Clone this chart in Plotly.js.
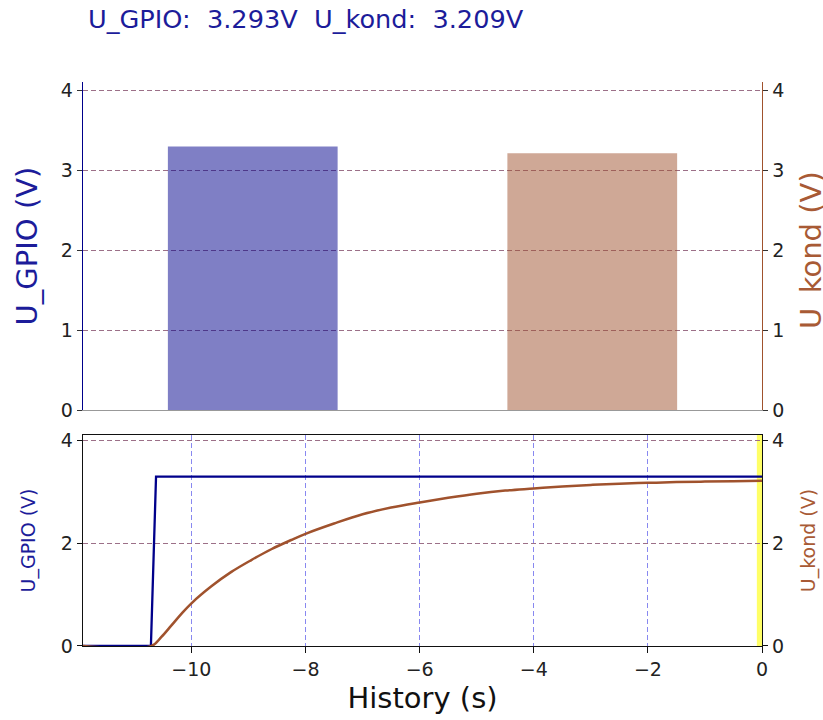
<!DOCTYPE html>
<html>
<head>
<meta charset="utf-8">
<script src="https://cdn.plot.ly/plotly-3.0.1.min.js"></script>
<style>html,body{margin:0;padding:0;background:#fff;}#chart{width:823px;height:720px;}</style>
</head>
<body>
<div id="chart"></div>
<script>
// Bar values (top panel)
const barCategories = [0, 1];
const uGpioNow = 3.293;
const uKondNow = 3.209;

// History (bottom panel)
const gpioTime = [-11.9, -10.71, -10.62, 0];
const gpioVolt = [0.0, 0.0, 3.293, 3.293];

const kondTime = [-11.9, -10.7, -10.53, -10.35, -10.18, -10.0, -9.65, -9.3, -8.95, -8.6, -8.25, -8.0, -7.5, -7.0, -6.5, -6.0, -5.5, -5.0, -4.5, -4.0, -3.5, -3.0, -2.5, -2.0, -1.5, -1.0, -0.5, 0.0];
const kondVolt = [0.0, 0.0, 0.17, 0.40, 0.62, 0.83, 1.16, 1.44, 1.67, 1.88, 2.06, 2.18, 2.38, 2.56, 2.69, 2.79, 2.88, 2.96, 3.02, 3.06, 3.10, 3.13, 3.155, 3.17, 3.185, 3.195, 3.203, 3.209];

const bigTicks = [0, 1, 2, 3, 4];
const smallTicks = [0, 2, 4];
const histTicks = [-10, -8, -6, -4, -2, 0];

const FONT = 'DejaVu Sans, sans-serif';
const NAVY = '#00008b';
const SIENNA = '#a0522d';
const GPIO_LABEL = '#1c1c9a';
const KOND_LABEL = '#a85a35';
const GRID_ROSE = '#9c7088';
const GRID_BLUE = '#8888f0';

const traces = [
  {type: 'bar', x: [barCategories[0]], y: [uGpioNow], width: 0.5, xaxis: 'x', yaxis: 'y',
   marker: {color: 'rgba(0,0,139,0.5)', line: {width: 0}}, hoverinfo: 'skip'},
  {type: 'bar', x: [barCategories[1]], y: [uKondNow], width: 0.5, xaxis: 'x', yaxis: 'y2',
   marker: {color: 'rgba(160,82,45,0.5)', line: {width: 0}}, hoverinfo: 'skip'},
  {type: 'scatter', mode: 'lines', x: gpioTime, y: gpioVolt, xaxis: 'x2', yaxis: 'y3',
   line: {color: NAVY, width: 2.3}},
  {type: 'scatter', mode: 'lines', x: kondTime, y: kondVolt, xaxis: 'x2', yaxis: 'y4',
   line: {color: SIENNA, width: 2.5, shape: 'spline', smoothing: 1}}
];

const tickFont = {family: FONT, size: 19, color: '#222'};

const layout = {
  width: 823, height: 720,
  margin: {l: 83, r: 61, t: 82, b: 74},
  paper_bgcolor: '#fff', plot_bgcolor: 'rgba(0,0,0,0)',
  showlegend: false,
  barmode: 'overlay',
  font: {family: FONT, color: '#222'},
  title: {text: 'U_GPIO:  3.293V  U_kond:  3.209V', x: 88/823, xanchor: 'left', xref: 'container',
          y: 1 - 19/720, yanchor: 'middle', yref: 'container',
          font: {family: FONT, size: 25.6, color: GPIO_LABEL}},
  xaxis: {domain: [0, 1], anchor: 'y', range: [-0.5, 1.5], showticklabels: false, ticks: '',
          showgrid: false, zeroline: false, showline: true, linecolor: '#999', linewidth: 1},
  yaxis: {domain: [0.4184, 1], anchor: 'x', range: [0, 4.1], tickvals: bigTicks, ticks: 'outside',
          ticklen: 5, tickcolor: '#333', tickfont: tickFont, showline: true, linecolor: NAVY, linewidth: 1.4,
          showgrid: true, gridcolor: GRID_ROSE, griddash: '5px,3px', gridwidth: 1, zeroline: false,
          title: {text: 'U_GPIO (V)', font: {family: FONT, size: 29, color: GPIO_LABEL}, standoff: 14}},
  yaxis2: {overlaying: 'y', side: 'right', anchor: 'x', range: [0, 4.1], tickvals: bigTicks, ticks: 'outside',
          ticklen: 5, tickcolor: '#333', tickfont: tickFont, showline: true, linecolor: SIENNA, linewidth: 1.4,
          showgrid: false, zeroline: false},
  xaxis2: {domain: [0, 1], anchor: 'y3', range: [-11.9, 0], tickvals: histTicks, ticks: 'outside',
          ticklen: 6, tickcolor: '#111', tickfont: tickFont, showline: true, mirror: true, linecolor: '#111',
          linewidth: 1.3, showgrid: true, gridcolor: GRID_BLUE, griddash: '5px,3px', gridwidth: 1, zeroline: false,
          title: {text: 'History (s)', font: {family: FONT, size: 29, color: '#111'}, standoff: 8}},
  yaxis3: {domain: [0, 0.3741], anchor: 'x2', range: [0, 4.1], tickvals: smallTicks, ticks: 'outside',
          ticklen: 5, tickcolor: '#111', tickfont: tickFont, showline: true, linecolor: '#111', linewidth: 1.3,
          showgrid: true, gridcolor: GRID_ROSE, griddash: '5px,3px', gridwidth: 1, zeroline: false,
          title: {text: 'U_GPIO (V)', font: {family: FONT, size: 19, color: GPIO_LABEL}, standoff: 20}},
  yaxis4: {overlaying: 'y3', side: 'right', anchor: 'x2', range: [0, 4.1], tickvals: smallTicks, ticks: 'outside',
          ticklen: 5, tickcolor: '#111', tickfont: tickFont, showline: true, linecolor: '#111', linewidth: 1.3,
          showgrid: false, zeroline: false,
          title: {text: 'U_kond (V)', font: {family: FONT, size: 19, color: KOND_LABEL}, standoff: 18}},
  annotations: [
    {text: 'U_kond (V)', xref: 'paper', yref: 'paper', x: 1 + (811 - 762) / 679, y: 0.4184 + 0.5816 * (1 - 168/328) ,
     xanchor: 'center', yanchor: 'middle', textangle: -90, showarrow: false,
     font: {family: FONT, size: 29, color: KOND_LABEL}}
  ],
  shapes: [
    {type: 'rect', xref: 'x2', yref: 'y3', x0: -0.09, x1: 0, y0: 0, y1: 4.1,
     fillcolor: 'rgba(255,255,0,0.6)', line: {width: 0}, layer: 'below'}
  ]
};

Plotly.newPlot('chart', traces, layout, {staticPlot: true, displayModeBar: false});
</script>
</body>
</html>
